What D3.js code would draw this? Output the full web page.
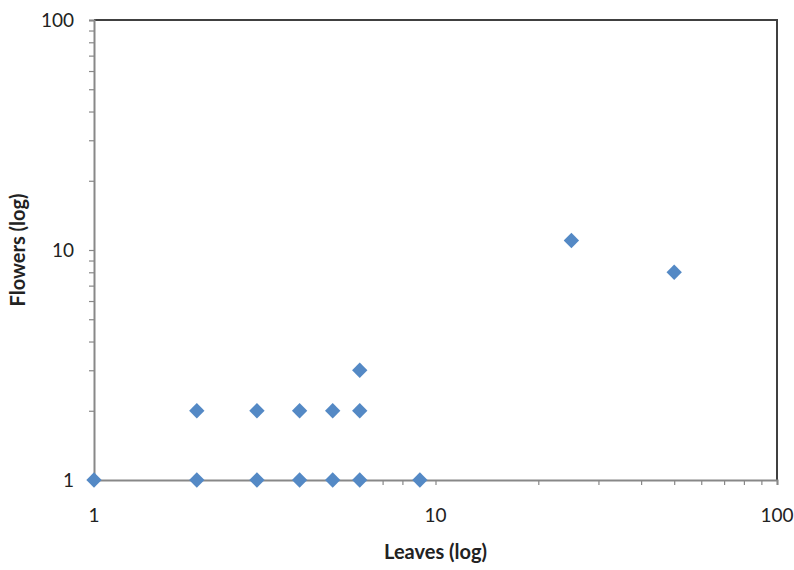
<!DOCTYPE html>
<html>
<head>
<meta charset="utf-8">
<script src="https://cdn.jsdelivr.net/npm/d3@7"></script>
<style>
  body { margin: 0; background: #fff; }
  text { font-family: Lato, "Liberation Sans", sans-serif; fill: #222; }
</style>
</head>
<body>
<div id="chart"></div>
<script>
  // данные: листья и цветки
  let leaves  = [1, 2, 3, 4, 5, 6, 9, 2, 3, 4, 5, 6, 6, 25, 50];
  let flowers = [1, 1, 1, 1, 1, 1, 1, 2, 2, 2, 2, 2, 3, 11, 8];
  let tickValues = [1, 10, 100];
  let xTitle = 'Leaves (log)', yTitle = 'Flowers (log)';

  let width = 794, height = 570;
  let m = { left: 94, right: 17, top: 20, bottom: 90 };

  let svg = d3.select('#chart').append('svg')
              .attr('width', width).attr('height', height);

  let x = d3.scaleLog().domain([1, 100]).range([m.left, width - m.right]);
  let y = d3.scaleLog().domain([1, 100]).range([height - m.bottom, m.top]);

  // мелкие деления 1..9 на каждую декаду
  let minor = [];
  for (let d = 1; d < 100; d *= 10)
    for (let k = 1; k <= 9; k++) minor.push(k * d);
  minor.push(100);

  // рамка сверху и справа
  svg.append('path')
     .attr('d', `M${x(1)},${y(100)}H${x(100)}V${y(1)}`)
     .attr('fill', 'none').attr('stroke', '#404040').attr('stroke-width', 2);

  // оси
  let xAxis = svg.append('g').attr('transform', `translate(0,${y(1)})`)
    .call(d3.axisBottom(x).tickValues(minor).tickSize(5).tickFormat(''));
  let yAxis = svg.append('g').attr('transform', `translate(${x(1)},0)`)
    .call(d3.axisLeft(y).tickValues(minor).tickSize(5).tickFormat(''));

  [xAxis, yAxis].forEach(a => {
    a.select('.domain').attr('stroke', '#888').attr('stroke-width', 2);
    a.selectAll('.tick line').attr('stroke', '#888').attr('stroke-width', 1.2);
  });

  // подписи делений
  svg.append('g').selectAll('text').data(tickValues).enter().append('text')
     .attr('x', d => x(d)).attr('y', y(1) + 42)
     .attr('text-anchor', 'middle').style('font-size', '19px')
     .text(d => d);

  svg.append('g').selectAll('text').data(tickValues).enter().append('text')
     .attr('x', x(1) - 20).attr('y', d => y(d) + 7)
     .attr('text-anchor', 'end').style('font-size', '19px')
     .text(d => d);

  // названия осей
  svg.append('text').attr('x', x(10)).attr('y', 559)
     .attr('text-anchor', 'middle').style('font-size', '20px').style('font-weight', 'bold')
     .text(xTitle);

  svg.append('text').attr('transform', `translate(25,${y(10)}) rotate(-90)`)
     .attr('text-anchor', 'middle').style('font-size', '20px').style('font-weight', 'bold')
     .text(yTitle);

  // точки-ромбы
  let diamond = d3.symbol().type(d3.symbolDiamond2).size(150);
  svg.append('g').selectAll('path').data(leaves).enter().append('path')
     .attr('d', diamond)
     .attr('transform', (d, i) => `translate(${x(d)},${y(flowers[i])})`)
     .attr('fill', '#5489c5');
</script>
</body>
</html>
